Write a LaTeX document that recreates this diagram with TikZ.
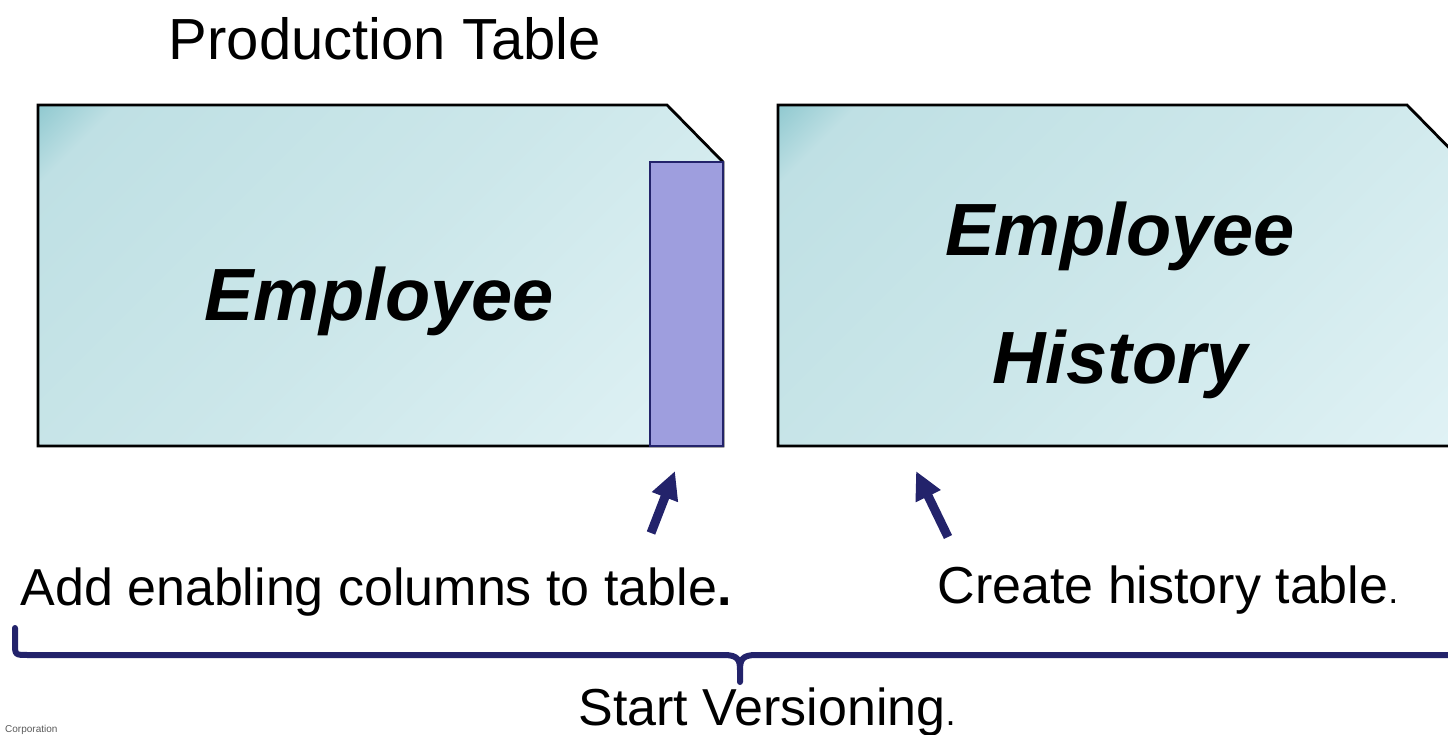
\documentclass[tikz,border=0pt]{standalone}
\usepackage{fontspec}
\setmainfont{Liberation Sans}
\usetikzlibrary{arrows.meta}
\definecolor{navy}{HTML}{23236B}
\definecolor{colfill}{HTML}{9E9EDE}
\definecolor{bxA}{HTML}{E0F2F5}
\definecolor{bxB}{HTML}{CCE7EA}
\definecolor{bxC}{HTML}{BFE0E4}
\definecolor{bxD}{HTML}{8CC7CE}
\pgfdeclareverticalshading{boxshade}{100bp}{color(0bp)=(bxA); color(15bp)=(bxA); color(50bp)=(bxB); color(80bp)=(bxC); color(86bp)=(bxD); color(100bp)=(bxD)}
\tikzset{
  tablebox/.style={draw=black, line width=2.8pt, line join=miter, shading=boxshade, shading angle=45},
  colbox/.style={draw=navy, fill=colfill, line width=2.8pt},
  bigarrow/.style={draw=navy, line width=9pt, -{Triangle[length=28pt,width=26pt]}},
  brace/.style={draw=navy, line width=6pt, line cap=round, line join=round},
  label/.style={inner sep=0pt, anchor=base, font=\fontsize{52}{62}\selectfont},
  title/.style={inner sep=0pt, anchor=base, font=\fontsize{58}{70}\selectfont},
  tname/.style={inner sep=0pt, anchor=base, font=\fontsize{74}{88}\selectfont\bfseries\itshape},
  tiny/.style={inner sep=0pt, anchor=base west, text=black!65, font=\fontsize{10}{12}\selectfont}
}
\begin{document}
\begin{tikzpicture}[x=1pt,y=-1pt]
\useasboundingbox (0,0) rectangle (1448,735);
\clip (0,0) rectangle (1448,735);
% tables
\path[tablebox] (38,105) -- (667,105) -- (723,162) -- (723,446) -- (38,446) -- cycle;
\path[tablebox] (778,105) -- (1407,105) -- (1463,162) -- (1463,446) -- (778,446) -- cycle;
\path[colbox] (650,162) rectangle (723,446);
% texts
\node[title] (prod) at (385,60) {Production Table};
\node[tname] (emp) at (379,320) {Employee};
\node[tname] (emph1) at (1120,256) {Employee};
\node[tname] (emph2) at (1120,383) {History};
\node[label] (add) at (376,605) {Add enabling columns to table\textbf{.}};
\node[label] (create) at (1168,603) {Create history table{\fontsize{36}{40}\selectfont.}};
\node[label] (start) at (767,725) {Start Versioning{\fontsize{36}{40}\selectfont.}};
\node[tiny] (corp) at (5,732) {Corporation};
% arrows
\coordinate (a1s) at (651,533);
\coordinate (a1e) at (675,471);
\coordinate (a2s) at (948,537);
\coordinate (a2e) at (916,471);
\draw[bigarrow] (a1s) -- (a1e);
\draw[bigarrow] (a2s) -- (a2e);
% brace
\coordinate (bl) at (15,628);
\coordinate (br) at (1465,628);
\coordinate (btip) at (740,682);
\draw[brace] (bl) -- (15,643) .. controls (15,655) .. (28,655) -- (724,655)
  .. controls (738,655) and (740,660) .. (740,670) -- (btip);
\draw[brace] (br) -- (1465,643) .. controls (1465,655) .. (1452,655) -- (756,655)
  .. controls (742,655) and (740,660) .. (740,670);
\end{tikzpicture}
\end{document}
